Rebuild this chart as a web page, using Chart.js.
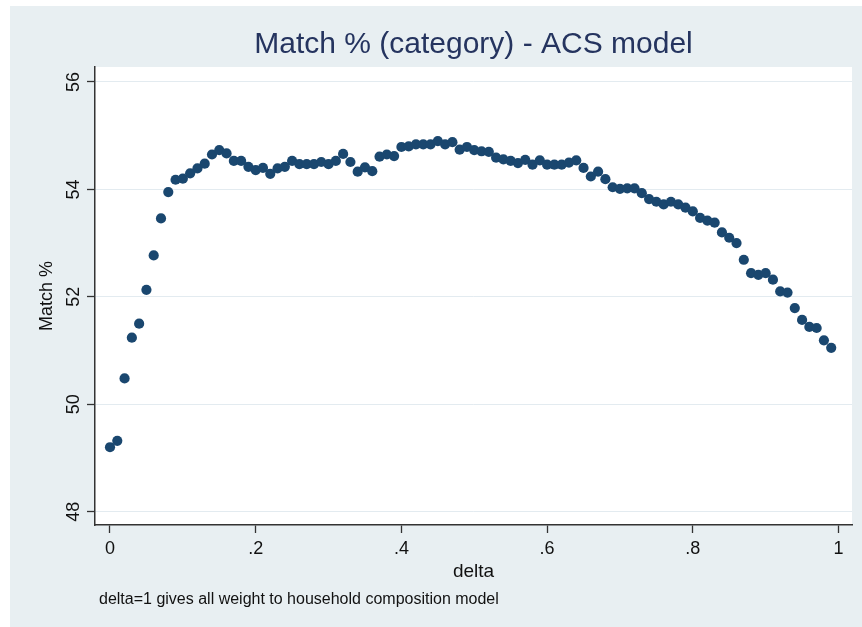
<!DOCTYPE html>
<html><head><meta charset="utf-8">
<script src="https://cdn.jsdelivr.net/npm/chart.js@4"></script>
<style>html,body{margin:0;padding:0;background:#fff;overflow:hidden}canvas{display:block}</style>
</head><body>
<canvas id="c" width="862" height="627"></canvas>
<script>
const deltas = [0.00,0.01,0.02,0.03,0.04,0.05,0.06,0.07,0.08,0.09,
  0.10,0.11,0.12,0.13,0.14,0.15,0.16,0.17,0.18,0.19,
  0.20,0.21,0.22,0.23,0.24,0.25,0.26,0.27,0.28,0.29,
  0.30,0.31,0.32,0.33,0.34,0.35,0.36,0.37,0.38,0.39,
  0.40,0.41,0.42,0.43,0.44,0.45,0.46,0.47,0.48,0.49,
  0.50,0.51,0.52,0.53,0.54,0.55,0.56,0.57,0.58,0.59,
  0.60,0.61,0.62,0.63,0.64,0.65,0.66,0.67,0.68,0.69,
  0.70,0.71,0.72,0.73,0.74,0.75,0.76,0.77,0.78,0.79,
  0.80,0.81,0.82,0.83,0.84,0.85,0.86,0.87,0.88,0.89,
  0.90,0.91,0.92,0.93,0.94,0.95,0.96,0.97,0.98,0.99];
const matchPct = [49.20,49.32,50.48,51.24,51.50,52.13,52.77,53.46,53.95,54.18,
  54.20,54.30,54.39,54.48,54.65,54.73,54.67,54.53,54.53,54.42,
  54.36,54.40,54.29,54.39,54.42,54.53,54.47,54.47,54.47,54.51,
  54.47,54.53,54.66,54.51,54.33,54.41,54.34,54.61,54.65,54.62,
  54.79,54.80,54.84,54.84,54.84,54.90,54.84,54.88,54.74,54.79,
  54.73,54.71,54.70,54.59,54.56,54.53,54.49,54.55,54.46,54.54,
  54.46,54.46,54.46,54.50,54.54,54.40,54.24,54.33,54.19,54.04,
  54.01,54.02,54.02,53.93,53.82,53.77,53.72,53.77,53.72,53.66,
  53.59,53.47,53.42,53.38,53.20,53.10,53.00,52.69,52.44,52.41,
  52.44,52.32,52.10,52.08,51.79,51.57,51.44,51.42,51.19,51.05];
const xTickValues = [0, 0.2, 0.4, 0.6, 0.8, 1];
const xTickLabels = ['0', '.2', '.4', '.6', '.8', '1'];
const yTickValues = [48, 50, 52, 54, 56];
const yTickLabels = ['48', '50', '52', '54', '56'];
const titleText = 'Match % (category) - ACS model';
const xTitleText = 'delta';
const yTitleText = 'Match %';
const noteText = 'delta=1 gives all weight to household composition model';

const FONT = '"Liberation Sans", Arial, Helvetica, sans-serif';
const BG = '#e8eff2';
const MARK = '#1a476f';

const bgPlugin = {
  id: 'bg',
  beforeDraw(chart) {
    const {ctx, chartArea: a, width, height} = chart;
    ctx.save();
    ctx.fillStyle = '#ffffff';
    ctx.fillRect(0, 0, width, height);
    ctx.fillStyle = BG;
    ctx.fillRect(10, 6, width - 10, height - 6);
    ctx.fillStyle = '#ffffff';
    ctx.fillRect(a.left, a.top, a.right - a.left, a.bottom - a.top);
    ctx.restore();
  },
  afterDraw(chart) {
    const {ctx, chartArea: a} = chart;
    ctx.save();
    ctx.font = '30px ' + FONT;
    ctx.fillStyle = '#25345f';
    ctx.textBaseline = 'middle';
    ctx.textAlign = 'center';
    ctx.fillText(titleText, (a.left + a.right) / 2, 45);
    ctx.font = '16px ' + FONT;
    ctx.fillStyle = '#111111';
    ctx.textAlign = 'left';
    ctx.fillText(noteText, 99, 600);
    ctx.restore();
  }
};

new Chart(document.getElementById('c'), {
  type: 'scatter',
  data: {
    datasets: [{
      data: deltas.map((d, i) => ({x: d, y: matchPct[i]})),
      backgroundColor: MARK,
      borderColor: MARK,
      borderWidth: 0,
      pointRadius: 5.1,
      pointHoverRadius: 5.1,
      pointStyle: 'circle'
    }]
  },
  options: {
    responsive: false,
    animation: false,
    events: [],
    layout: {padding: {left: 0, right: 10, top: 67, bottom: 0}},
    plugins: {
      legend: {display: false},
      tooltip: {enabled: false},
      title: {display: false}
    },
    scales: {
      x: {
        type: 'linear',
        min: -0.02059,
        max: 1.01853,
        afterBuildTicks: s => { s.ticks = xTickValues.map(v => ({value: v})); },
        afterFit: s => { s.height = 102; },
        ticks: {
          callback: (v) => { const i = xTickValues.indexOf(v); return i >= 0 ? xTickLabels[i] : ''; },
          color: '#111111',
          font: {family: FONT, size: 18},
          padding: 5,
          maxRotation: 0,
          minRotation: 0
        },
        grid: {drawOnChartArea: false, drawTicks: true, tickLength: 8, tickColor: '#333333', tickWidth: 1.3},
        border: {display: true, color: '#333333', width: 1.5},
        title: {
          display: true,
          text: xTitleText,
          color: '#111111',
          font: {family: FONT, size: 19},
          padding: {top: 0, bottom: 43.6}
        }
      },
      y: {
        type: 'linear',
        min: 47.752,
        max: 56.279,
        afterBuildTicks: s => { s.ticks = yTickValues.map(v => ({value: v})); },
        afterFit: s => { s.width = 95; },
        ticks: {
          callback: (v) => { const i = yTickValues.indexOf(v); return i >= 0 ? yTickLabels[i] : ''; },
          color: '#111111',
          font: {family: FONT, size: 18},
          padding: 3,
          minRotation: 90,
          maxRotation: 90,
          crossAlign: 'center'
        },
        grid: {color: '#e3ebf0', lineWidth: 1, drawTicks: true, tickLength: 8, tickColor: '#333333', tickWidth: 1.3},
        border: {display: true, color: '#333333', width: 1.5},
        title: {
          display: true,
          text: yTitleText,
          color: '#111111',
          font: {family: FONT, size: 18},
          padding: {top: 36.2, bottom: 0}
        }
      }
    }
  },
  plugins: [bgPlugin]
});
</script>
</body></html>
